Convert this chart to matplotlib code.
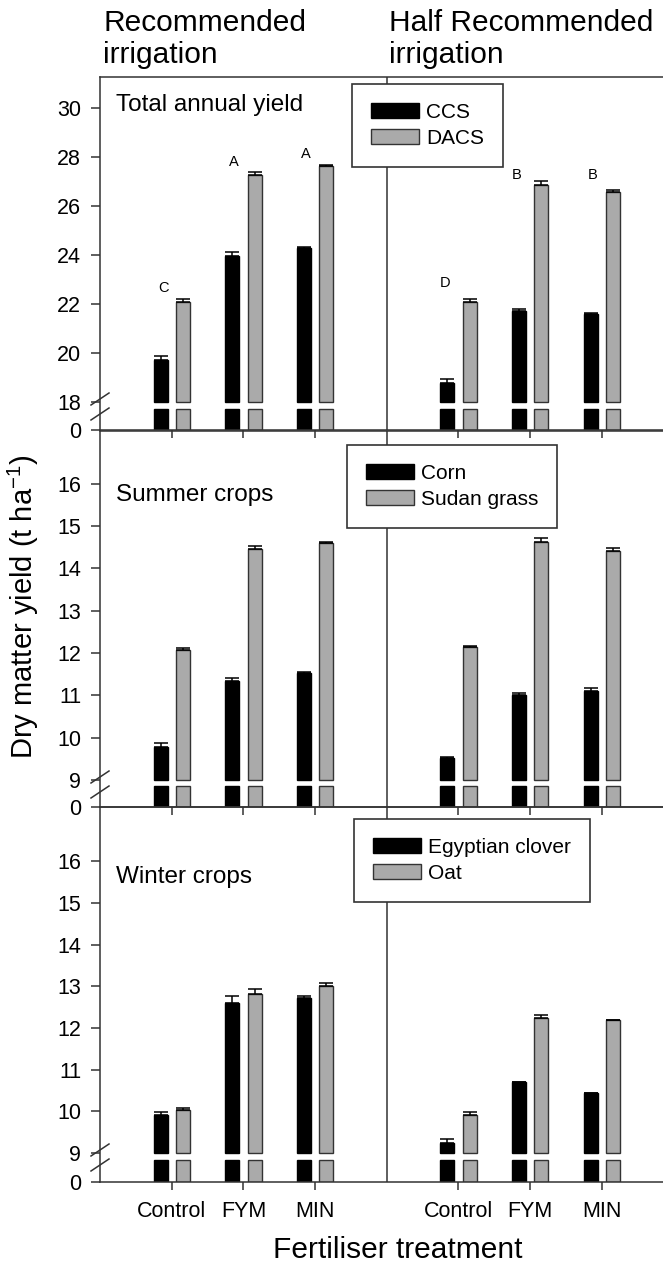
#!/usr/bin/env python3
"""Dry matter yield under two irrigation levels, three stacked panels
(total annual / summer / winter) with broken y-axes.

Output: out.png (663 x 1265 px)
"""
import numpy as np
import matplotlib
matplotlib.use("Agg")
import matplotlib.pyplot as plt
from matplotlib.lines import Line2D

plt.rcParams.update({
    "font.family": ["Liberation Sans", "DejaVu Sans"],
    "mathtext.fontset": "custom",
    "mathtext.rm": "Liberation Sans",
    "mathtext.default": "regular",
    "font.size": 15,
})

FIG_W, FIG_H = 663, 1265
LINE = "#333333"
C_BLACK = "#000000"
C_GRAY = "#aaaaaa"

TREATMENTS = ["Control", "FYM", "MIN"]

# total annual yield (t/ha): cropping system CCS vs DACS
TOTAL_CCS_REC = [19.70, 23.97, 24.27]
TOTAL_CCS_REC_ERR = [0.16, 0.17, 0.07]
TOTAL_DACS_REC = [22.08, 27.28, 27.62]
TOTAL_DACS_REC_ERR = [0.11, 0.13, 0.07]
TOTAL_CCS_HALF = [18.79, 21.73, 21.58]
TOTAL_CCS_HALF_ERR = [0.16, 0.08, 0.07]
TOTAL_DACS_HALF = [22.08, 26.84, 26.57]
TOTAL_DACS_HALF_ERR = [0.11, 0.17, 0.10]

# summer crops
CORN_REC = [9.79, 11.33, 11.52]
CORN_REC_ERR = [0.08, 0.07, 0.04]
SUDAN_REC = [12.08, 14.45, 14.61]
SUDAN_REC_ERR = [0.04, 0.07, 0.02]
CORN_HALF = [9.52, 11.01, 11.10]
CORN_HALF_ERR = [0.03, 0.05, 0.08]
SUDAN_HALF = [12.14, 14.62, 14.41]
SUDAN_HALF_ERR = [0.03, 0.11, 0.08]

# winter crops
CLOVER_REC = [9.90, 12.61, 12.73]
CLOVER_REC_ERR = [0.08, 0.15, 0.04]
OAT_REC = [10.02, 12.82, 13.00]
OAT_REC_ERR = [0.06, 0.12, 0.08]
CLOVER_HALF = [9.23, 10.70, 10.43]
CLOVER_HALF_ERR = [0.11, 0.0, 0.0]
OAT_HALF = [9.91, 12.25, 12.18]
OAT_HALF_ERR = [0.08, 0.05, 0.01]

LETTERS_REC = ["C", "A", "A"]
LETTERS_HALF = ["D", "B", "B"]

AX_LEFT, AX_RIGHT = 100, 673.6   # right edge runs off the canvas
OFF, WIDTH = 0.155, 0.195


def fx(px):
    return px / FIG_W


def fy(py):
    return 1 - py / FIG_H


def break_scale(brk, low):
    # 0..brk squeezed into `low` units, linear above the break
    def fwd(v):
        v = np.asarray(v, dtype=float)
        return np.where(v < brk, v * low / brk, low + v - brk)

    def inv(u):
        u = np.asarray(u, dtype=float)
        return np.where(u < low, u * brk / low, u - low + brk)
    return fwd, inv


def draw_panel(fig, top_px, bot_px, brk, ytop, low_px, gap_px, yticks,
               series, labels, title, title_base_px, leg_xy, bottom=False):
    ax = fig.add_axes([fx(AX_LEFT), fy(bot_px), fx(AX_RIGHT - AX_LEFT),
                       (bot_px - top_px) / FIG_H])
    ax.patch.set_visible(False)
    ppu = (bot_px - top_px - low_px) / (ytop - brk)
    low = low_px / ppu
    ax.set_yscale("function", functions=break_scale(brk, low))
    ax.set_ylim(0, ytop)
    ax.set_xlim(0, 8)
    stub = brk * (low_px - gap_px) / low_px

    handles = []
    for h, (a_val, a_err, b_val, b_err) in enumerate(series):
        centers = np.arange(1, 4) + 4 * h
        for vals, err, dx, col, ec in ((a_val, a_err, -OFF, C_BLACK, C_BLACK),
                                       (b_val, b_err, OFF, C_GRAY, LINE)):
            vals = np.asarray(vals)
            bars = ax.bar(centers + dx, vals - brk, bottom=brk, width=WIDTH,
                          color=col, edgecolor=ec, lw=1.0, zorder=2)
            ax.bar(centers + dx, np.full(3, stub), bottom=0, width=WIDTH,
                   color=col, edgecolor=ec, lw=1.0, zorder=2)
            ax.errorbar(centers + dx, vals, yerr=[np.zeros(3), err],
                        fmt="none", ecolor="black", elinewidth=1.1,
                        capsize=5, capthick=1.1, zorder=3)
            if h == 0:
                handles.append(bars)

    ax.axvline(4, color=LINE, lw=1.1, zorder=3)
    for side in ("left", "top", "bottom"):
        ax.spines[side].set_color(LINE)
        ax.spines[side].set_linewidth(1.1)
    ax.spines["right"].set_visible(False)

    ax.set_yticks(yticks)
    ax.set_yticklabels([str(t) for t in yticks])
    ax.minorticks_off()
    ax.tick_params(axis="y", direction="out", length=6.5, width=1.1,
                   color=LINE, pad=7, labelsize=15.5)
    ax.set_xticks([1, 2, 3, 5, 6, 7])
    ax.tick_params(axis="x", direction="out", length=5.5, width=1.1,
                   color=LINE, pad=8, labelsize=15.5, labelbottom=bottom)
    if bottom:
        ax.set_xticklabels(TREATMENTS * 2)

    # axis break marks (double slash on the left spine)
    yb = bot_px - low_px
    for yc in (yb - 3, yb + 12):
        fig.add_artist(Line2D([fx(AX_LEFT - 9), fx(AX_LEFT + 9)],
                              [fy(yc + 6), fy(yc - 6)],
                              transform=fig.transFigure, color=LINE, lw=1.1))

    fig.text(fx(116), fy(title_base_px), title, fontsize=17.5,
             va="baseline", ha="left")

    leg = ax.legend(handles, labels, loc="upper left",
                    bbox_to_anchor=(fx(leg_xy[0]), fy(leg_xy[1])),
                    bbox_transform=fig.transFigure, borderaxespad=0,
                    fontsize=15, frameon=True, fancybox=False,
                    framealpha=1, edgecolor=LINE, handlelength=2.3,
                    handleheight=0.75, handletextpad=0.35,
                    labelspacing=0.35, borderpad=0.9)
    leg.get_frame().set_linewidth(1.2)
    return ax


def main():
    fig = plt.figure(figsize=(FIG_W / 100, FIG_H / 100), dpi=100)

    ax1 = draw_panel(
        fig, 77, 430, 18, 31.27, 28, 7, [0, 18, 20, 22, 24, 26, 28, 30],
        [(TOTAL_CCS_REC, TOTAL_CCS_REC_ERR, TOTAL_DACS_REC, TOTAL_DACS_REC_ERR),
         (TOTAL_CCS_HALF, TOTAL_CCS_HALF_ERR, TOTAL_DACS_HALF, TOTAL_DACS_HALF_ERR)],
        ["CCS", "DACS"], "Total annual yield", 110.7, (352, 84))
    draw_panel(
        fig, 431, 807, 9, 17.25, 27, 6, [0] + list(range(9, 17)),
        [(CORN_REC, CORN_REC_ERR, SUDAN_REC, SUDAN_REC_ERR),
         (CORN_HALF, CORN_HALF_ERR, SUDAN_HALF, SUDAN_HALF_ERR)],
        ["Corn", "Sudan grass"], "Summer crops", 500.7, (347, 445))
    draw_panel(
        fig, 807, 1182, 9, 17.3, 29, 7, [0] + list(range(9, 17)),
        [(CLOVER_REC, CLOVER_REC_ERR, OAT_REC, OAT_REC_ERR),
         (CLOVER_HALF, CLOVER_HALF_ERR, OAT_HALF, OAT_HALF_ERR)],
        ["Egyptian clover", "Oat"], "Winter crops", 883.3, (354, 819),
        bottom=True)

    # significance letters, total annual yield
    for (x, y), s in zip([(0.89, 22.64), (1.86, 27.79), (2.875, 28.11)],
                         LETTERS_REC):
        ax1.text(x, y, s, fontsize=10.5, ha="center", va="center")
    for (x, y), s in zip([(4.81, 22.84), (5.81, 27.26), (6.875, 27.26)],
                         LETTERS_HALF):
        ax1.text(x, y, s, fontsize=10.5, ha="center", va="center")

    fig.text(fx(103), fy(30.7), "Recommended", fontsize=21.5, va="baseline")
    fig.text(fx(103), fy(63.3), "irrigation", fontsize=21.5, va="baseline")
    fig.text(fx(389), fy(30.7), "Half Recommended", fontsize=21.5,
             va="baseline")
    fig.text(fx(389), fy(63.3), "irrigation", fontsize=21.5, va="baseline")

    fig.text(fx(23), fy(607), "Dry matter yield (t ha$^{-1}$)", fontsize=21,
             rotation=90, ha="center", va="center")
    fig.text(fx(398), fy(1258), "Fertiliser treatment", fontsize=21.5,
             ha="center", va="baseline")

    fig.savefig("out.png", dpi=100)
    plt.close(fig)


if __name__ == "__main__":
    main()
